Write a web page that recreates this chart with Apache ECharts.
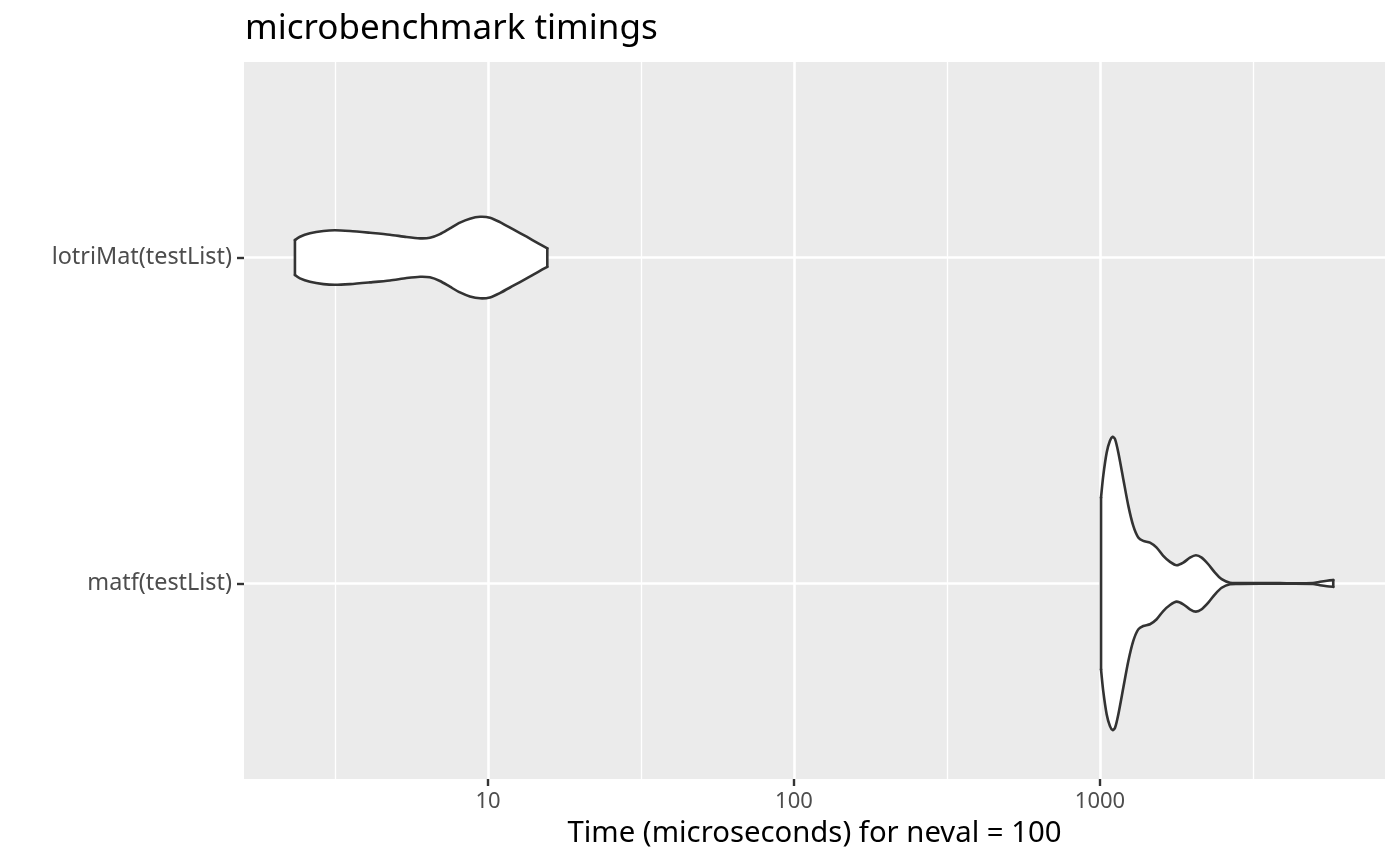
<!DOCTYPE html>
<html>
<head>
<meta charset="utf-8">
<script src="https://cdn.jsdelivr.net/npm/echarts@6/dist/echarts.min.js"></script>
<style>
html,body{margin:0;padding:0;background:#fff;}
#chart{width:1400px;height:865px;}
</style>
</head>
<body>
<div id="chart"></div>
<script>
// Categories (top to bottom)
const categories = ['lotriMat(testList)', 'matf(testList)'];

// Violin outlines: evaluation times (microseconds) and relative density (1 = widest violin)
const lotriTimes = [2.34, 2.43, 2.62, 2.90, 3.16, 3.54, 4.12, 4.78, 5.42, 6.00, 6.46, 6.97, 7.51, 8.10, 8.73, 9.42, 10.15, 10.94, 12.10, 13.38, 14.60, 15.63];
const lotriDensity = [0.119, 0.142, 0.165, 0.181, 0.186, 0.181, 0.169, 0.156, 0.140, 0.131, 0.135, 0.160, 0.199, 0.238, 0.265, 0.278, 0.272, 0.242, 0.192, 0.142, 0.097, 0.063];

const matfTimes = [1008, 1025, 1052, 1078, 1100, 1120, 1148, 1192, 1238, 1285, 1334, 1385, 1457, 1532, 1610, 1694, 1781, 1872, 1968, 2059, 2150, 2259, 2376, 2499, 2660, 2868, 3873, 4967, 5236, 5518, 5786];
const matfDensity = [0.586, 0.734, 0.893, 0.973, 1.0, 0.984, 0.893, 0.711, 0.529, 0.392, 0.313, 0.290, 0.278, 0.244, 0.188, 0.147, 0.124, 0.142, 0.176, 0.192, 0.176, 0.131, 0.074, 0.029, 0.005, 0.003, 0.002, 0.003, 0.012, 0.019, 0.023];

// Axis ticks
const xTickValues = [10, 100, 1000];
const xMinorValues = [3.1623, 31.623, 316.23, 3162.3];
const xRange = [1.595, 8540];

const violins = [
  { times: lotriTimes, density: lotriDensity },
  { times: matfTimes, density: matfDensity }
];
const halfWidthMax = 0.45;
const lg = Math.log10;

const chart = echarts.init(document.getElementById('chart'), null, { renderer: 'canvas' });

const FONT = 'Noto Sans';
const SMOOTH = 0.25;
const OUTLINE = { stroke: '#333333', lineWidth: 2.6, lineJoin: 'round', lineCap: 'round', fill: null };

const option = {
  backgroundColor: '#ffffff',
  animation: false,
  title: {
    text: 'microbenchmark timings',
    left: 240,
    top: 7,
    textStyle: { fontFamily: FONT, fontSize: 35, fontWeight: 'normal', color: '#000000' }
  },
  grid: {
    left: 244, right: 15, top: 62, bottom: 86,
    show: true, backgroundColor: '#EBEBEB', borderWidth: 0
  },
  xAxis: {
    type: 'value',
    min: lg(xRange[0]),
    max: lg(xRange[1]),
    axisLine: { show: false },
    axisTick: { show: true, length: 7, lineStyle: { color: '#333333', width: 2.4 }, customValues: xTickValues.map(lg) },
    axisLabel: {
      customValues: xTickValues.map(lg),
      margin: 12,
      fontFamily: FONT, fontSize: 22, color: '#4D4D4D',
      formatter: v => String(Math.round(Math.pow(10, v)))
    },
    splitLine: { show: true, lineStyle: { color: '#ffffff', width: 2.6 } },
    name: 'Time (microseconds) for neval = 100',
    nameLocation: 'middle',
    nameGap: 40,
    nameTextStyle: { fontFamily: FONT, fontSize: 29.3, color: '#000000' }
  },
  yAxis: {
    type: 'value',
    min: 0.4,
    max: 2.6,
    inverse: true,
    axisLine: { show: false },
    axisTick: { show: true, length: 7, lineStyle: { color: '#333333', width: 2.4 }, customValues: [1, 2] },
    axisLabel: {
      customValues: [1, 2],
      margin: 12,
      fontFamily: FONT, fontSize: 23.4, color: '#4D4D4D',
      formatter: v => categories[Math.round(v) - 1] || ''
    },
    splitLine: { show: true, lineStyle: { color: '#ffffff', width: 2.6 } }
  },
  series: [
    {
      type: 'line',
      data: [],
      silent: true,
      z: 1,
      markLine: {
        silent: true,
        symbol: ['none', 'none'],
        label: { show: false },
        lineStyle: { color: '#ffffff', width: 1.3, type: 'solid' },
        data: xMinorValues.map(v => ({ xAxis: lg(v) })),
        animation: false
      }
    },
    {
      type: 'custom',
      z: 5,
      data: violins.map((v, i) => [lg(v.times[0]), i + 1]),
      renderItem: function (params, api) {
        const idx = params.dataIndex;
        const v = violins[idx];
        const c = idx + 1;
        const top = [], bottom = [];
        for (let k = 0; k < v.times.length; k++) {
          const w = v.density[k] * halfWidthMax;
          top.push(api.coord([lg(v.times[k]), c - w]));
          bottom.push(api.coord([lg(v.times[k]), c + w]));
        }
        const n = top.length;
        const pts = top.concat(bottom.slice().reverse());
        return {
          type: 'group',
          children: [
            { type: 'polygon', shape: { points: pts, smooth: SMOOTH }, style: { fill: '#ffffff', stroke: null } },
            { type: 'polyline', shape: { points: top, smooth: SMOOTH }, style: OUTLINE },
            { type: 'polyline', shape: { points: bottom, smooth: SMOOTH }, style: OUTLINE },
            { type: 'line', shape: { x1: top[0][0], y1: top[0][1], x2: bottom[0][0], y2: bottom[0][1] }, style: OUTLINE },
            { type: 'line', shape: { x1: top[n - 1][0], y1: top[n - 1][1], x2: bottom[n - 1][0], y2: bottom[n - 1][1] }, style: OUTLINE }
          ]
        };
      }
    }
  ]
};

chart.setOption(option);
</script>
</body>
</html>
